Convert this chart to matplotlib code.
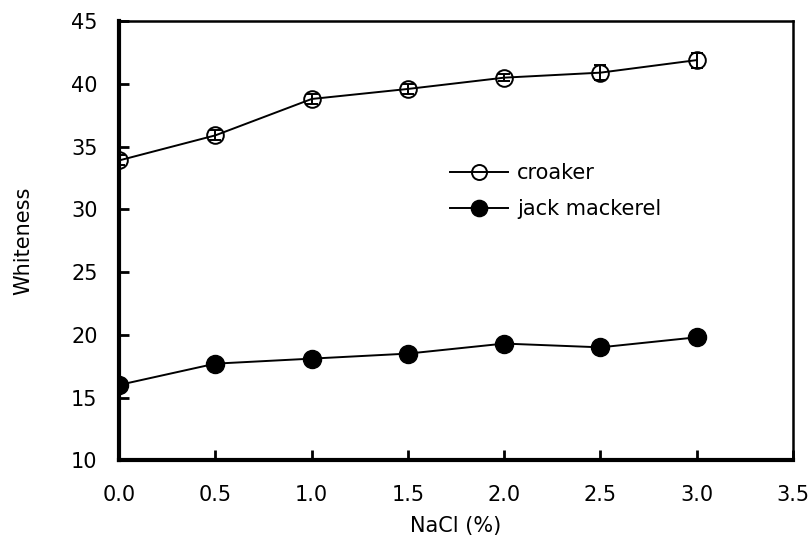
import matplotlib
matplotlib.use("Agg")
import matplotlib.pyplot as plt

plt.rcParams['font.family'] = ['DejaVu Sans']

nacl = [0.0, 0.5, 1.0, 1.5, 2.0, 2.5, 3.0]
croaker = [33.9, 35.9, 38.8, 39.6, 40.5, 40.9, 41.9]
croaker_err = [0.4, 0.4, 0.4, 0.4, 0.3, 0.6, 0.6]
jack = [16.0, 17.7, 18.1, 18.5, 19.3, 19.0, 19.8]
jack_err = [0.2, 0.2, 0.2, 0.2, 0.2, 0.2, 0.2]

xticks = [0.0, 0.5, 1.0, 1.5, 2.0, 2.5, 3.0, 3.5]
yticks = [10, 15, 20, 25, 30, 35, 40, 45]

fig = plt.figure(figsize=(8.1, 5.44), dpi=100)
ax = fig.add_axes([0.147, 0.154, 0.832, 0.807])

ax.errorbar(nacl, croaker, yerr=croaker_err, color='black', lw=1.4,
            marker='o', ms=12, mfc='none', mec='black', mew=1.4,
            capsize=4.5, elinewidth=1.4, capthick=1.4, label='croaker')
ax.errorbar(nacl, jack, yerr=jack_err, color='black', lw=1.4,
            marker='o', ms=13, mfc='black', mec='black',
            capsize=4.5, elinewidth=1.4, capthick=1.4, label='jack mackerel')

ax.set_xlim(0, 3.5)
ax.set_ylim(10, 45)
ax.set_xticks(xticks)
ax.set_xticklabels([f"{v:.1f}" for v in xticks])
ax.set_yticks(yticks)

for s in ['left', 'bottom']:
    ax.spines[s].set_linewidth(3)
for s in ['top', 'right']:
    ax.spines[s].set_linewidth(1.8)
ax.tick_params(direction='in', length=7, width=2, labelsize=15)
ax.tick_params(axis='x', pad=18)
ax.tick_params(axis='y', pad=15.5)

ax.set_xlabel('NaCl (%)', fontsize=15, labelpad=8)
ax.set_ylabel('Whiteness', fontsize=15, labelpad=27)

handles, labels = ax.get_legend_handles_labels()
handles = [h[0] for h in handles]
ax.legend(handles, labels, loc='upper left', bbox_to_anchor=(0.491, 0.677),
          frameon=False, fontsize=15, handlelength=2.8, handletextpad=0.43,
          labelspacing=0.78, markerscale=0.9, borderpad=0, borderaxespad=0)

fig.savefig('out.png', dpi=100)
